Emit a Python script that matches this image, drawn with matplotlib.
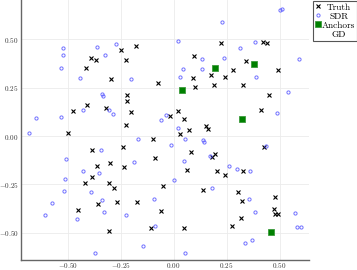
import matplotlib
matplotlib.use("Agg")
import matplotlib.pyplot as plt
from matplotlib.ticker import FuncFormatter

# =========================
# DATA
# =========================

truth_x = [-0.249, -0.176, -0.390, -0.365, -0.224, -0.414, 0.223, 0.420, 0.442, 0.094,
           0.340, 0.281, 0.491, -0.297, -0.074, -0.222, -0.222, -0.476, -0.410, -0.321,
           -0.203, -0.224, -0.500, 0.091, 0.176, 0.243, 0.192, 0.102, 0.327, 0.448,
           0.020, -0.017, 0.047, 0.413, 0.071, 0.152, 0.160, 0.028, -0.098, -0.239,
           -0.387, -0.088, -0.302, -0.362, -0.234, -0.384, -0.418, -0.307, -0.280, -0.049,
           0.425, 0.082, 0.195, 0.179, 0.327, 0.064, 0.203, 0.243, 0.137, 0.305,
           0.476, -0.451, -0.357, -0.267, -0.175, -0.058, -0.108, -0.304, 0.324, 0.473,
           0.479, 0.492, 0.316, 0.275, 0.047]
truth_y = [0.445, 0.464, 0.403, 0.391, 0.393, 0.353, 0.482, 0.486, 0.482, 0.414,
           0.388, 0.341, 0.339, 0.295, 0.276, 0.214, 0.181, 0.131, 0.159, 0.145,
           0.123, 0.055, 0.017, 0.300, 0.314, 0.304, 0.265, 0.253, 0.265, 0.212,
           0.131, 0.103, 0.089, 0.134, 0.033, 0.052, 0.036, 0.008, -0.014, -0.055,
           -0.071, -0.114, -0.138, -0.154, -0.159, -0.210, -0.241, -0.241, -0.270, -0.259,
           -0.058, -0.083, -0.093, -0.109, -0.181, -0.174, -0.181, -0.200, -0.278, -0.291,
           -0.315, -0.383, -0.350, -0.343, -0.340, -0.386, -0.477, -0.493, -0.338, -0.377,
           -0.403, -0.405, -0.422, -0.464, -0.474]

sdr_x = [-0.524, -0.524, -0.533, -0.362, -0.272, -0.324, 0.503, 0.512, 0.226, 0.022,
         0.385, 0.314, 0.132, 0.236, 0.591, 0.044, 0.133, -0.442, -0.203, -0.337,
         -0.333, -0.428, -0.304, -0.286, -0.038, -0.060, -0.650, -0.530, -0.681, 0.031,
         0.387, 0.539, 0.489, 0.019, -0.167, -0.343, -0.507, -0.187, -0.426, -0.351,
         -0.511, -0.516, -0.389, -0.338, -0.093, 0.055, 0.140, 0.144, -0.011, 0.437,
         0.171, 0.049, 0.262, 0.299, 0.358, 0.003, 0.182, 0.355, -0.575, -0.608,
         -0.458, -0.329, -0.225, -0.088, -0.143, -0.371, 0.383, 0.572, 0.580, 0.599,
         0.368, 0.336, 0.053]
sdr_y = [0.453, 0.417, 0.352, 0.460, 0.476, 0.420, 0.651, 0.655, 0.589, 0.491,
         0.488, 0.453, 0.400, 0.402, 0.398, 0.346, 0.348, 0.298, 0.293, 0.219,
         0.207, 0.133, 0.133, 0.115, 0.110, 0.081, 0.092, 0.100, 0.017, 0.304,
         0.304, 0.228, 0.119, 0.041, -0.016, -0.072, -0.120, -0.136, -0.183, -0.193,
         -0.224, -0.284, -0.290, -0.331, -0.326, -0.017, -0.021, -0.033, -0.045, -0.050,
         -0.102, -0.131, -0.154, -0.172, -0.179, -0.229, -0.269, -0.328, -0.345, -0.407,
         -0.429, -0.395, -0.410, -0.467, -0.567, -0.603, -0.395, -0.397, -0.471, -0.471,
         -0.538, -0.552, -0.605]

anchor_x = [0.379, 0.193, 0.038, 0.322, 0.458]
anchor_y = [0.372, 0.353, 0.240, 0.089, -0.498]

ticks = [-0.50, -0.25, 0.00, 0.25, 0.50]

# =========================
# STYLE
# =========================

plt.rcParams["font.family"] = "serif"
plt.rcParams["font.serif"] = ["cmr10"]
plt.rcParams["mathtext.fontset"] = "cm"
plt.rcParams["axes.unicode_minus"] = True

fig = plt.figure(figsize=(3.57, 2.70), dpi=100)
ax = fig.add_axes([0.0588, 0.037, 0.8067, 0.963])

# =========================
# PLOT
# =========================

ax.plot(truth_x, truth_y, "x", color="black", markersize=3, markeredgewidth=0.8,
        label="Truth", zorder=3)
ax.plot(sdr_x, sdr_y, "o", markerfacecolor="none", markeredgecolor="#4d4dff",
        markersize=2.3, markeredgewidth=0.7, alpha=0.8, label="SDR", zorder=3)
ax.plot(anchor_x, anchor_y, "s", color="green", markersize=4.2,
        markeredgecolor="#3c9a3c", markeredgewidth=0.6, label="Anchors", zorder=4)
ax.plot([], [], " ", label="GD")

ax.set_xlim(-0.72, 0.638)
ax.set_ylim(-0.641, 0.703)
ax.set_xticks(ticks)
ax.set_yticks(ticks)
ax.xaxis.set_major_formatter(FuncFormatter(lambda v, p: f"${v:.2f}$"))
ax.yaxis.set_major_formatter(FuncFormatter(lambda v, p: f"${v:.2f}$"))
ax.tick_params(length=0, labelsize=5.2, colors="#333333")
ax.tick_params(axis="x", pad=0.8)
ax.tick_params(axis="y", pad=1.5)

ax.grid(True, color="#ebebeb", linewidth=0.6)
ax.set_axisbelow(True)
for side in ["top", "right"]:
    ax.spines[side].set_visible(False)
for side in ["left", "bottom"]:
    ax.spines[side].set_color("#666666")
    ax.spines[side].set_linewidth(1.0)

leg = fig.legend(loc="upper left", bbox_to_anchor=(0.878, 0.995), fontsize=6.7,
                 fancybox=False, framealpha=1, edgecolor="#555555",
                 labelspacing=0.05, borderpad=0.2, handlelength=0.5,
                 handletextpad=0.2, borderaxespad=0.0)
leg.get_frame().set_linewidth(0.8)

# center the legend labels on the widest one
fig.canvas.draw()
renderer = fig.canvas.get_renderer()
widths = [t.get_window_extent(renderer).width for t in leg.get_texts()]
widest = max(widths)
for t, w in zip(leg.get_texts(), widths):
    t.set_position(((widest - w) / 2, 0))

fig.savefig("out.png", dpi=100)
